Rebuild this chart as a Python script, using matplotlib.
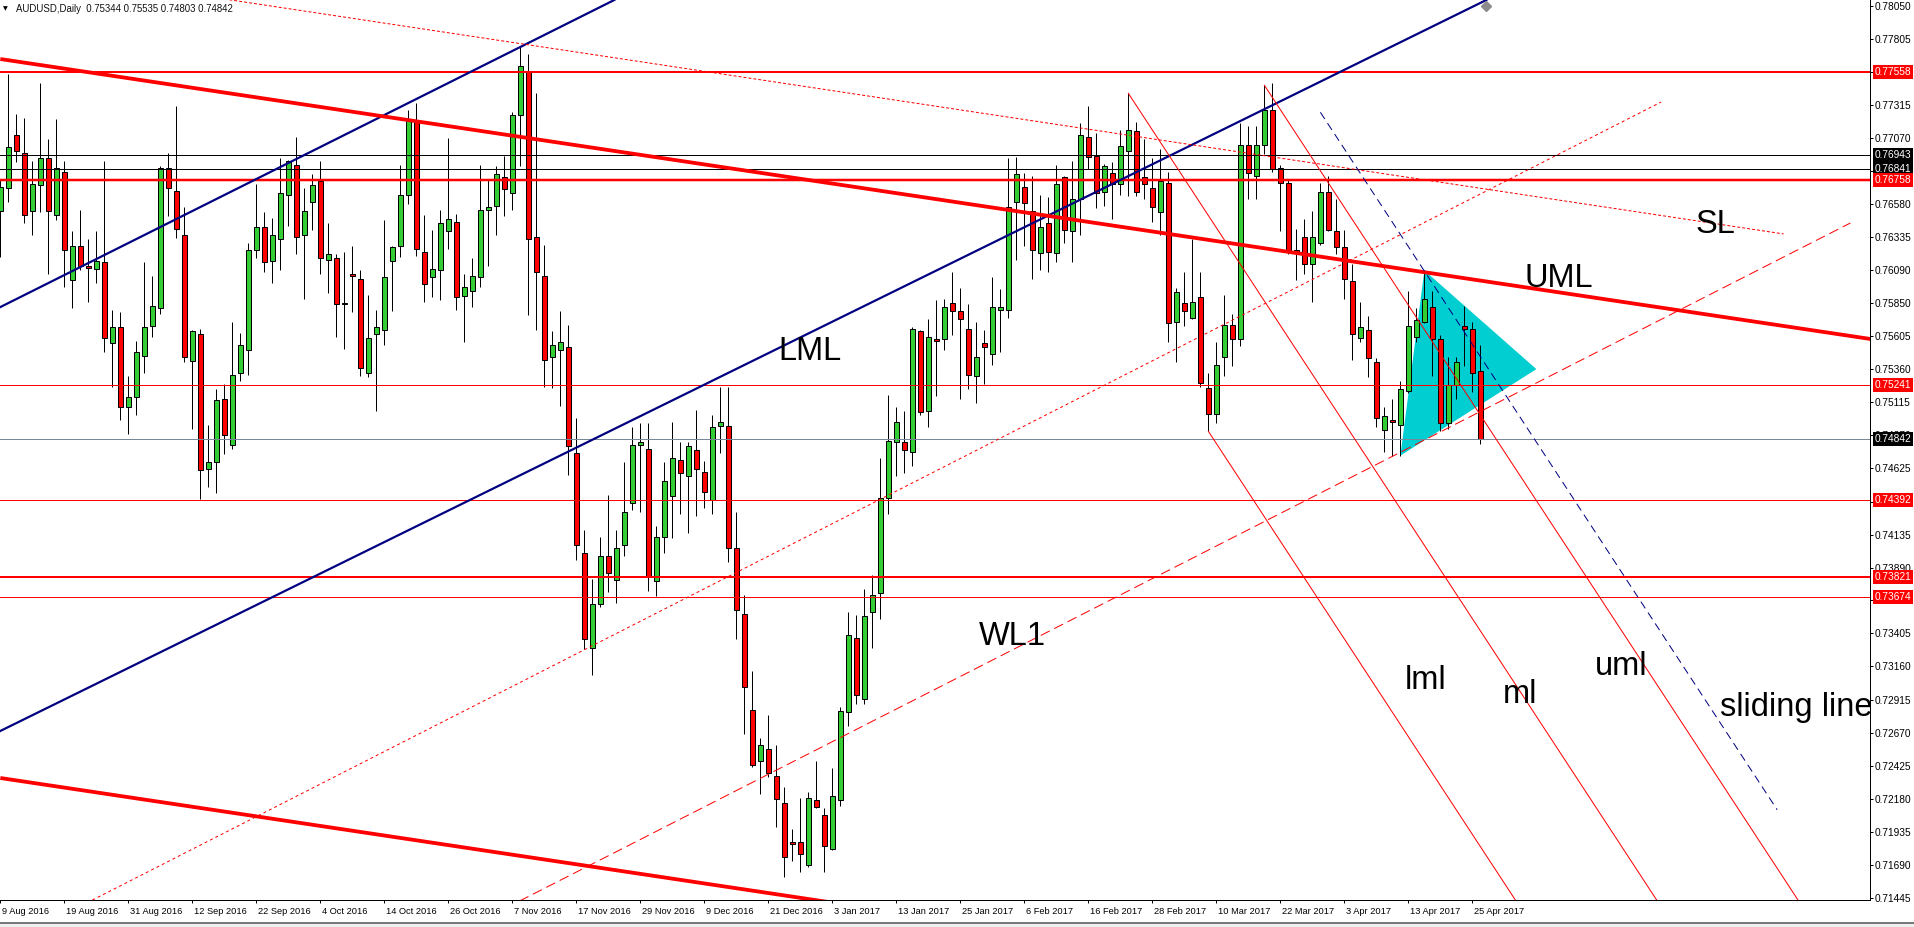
import numpy as np
import matplotlib.pyplot as plt
import matplotlib.transforms as mtrans
from matplotlib.patches import Polygon, Rectangle
from matplotlib.lines import Line2D

W, H, DPI = 1915, 927, 100
PX = 72.0 / DPI  # one pixel in points

# AUDUSD daily bars, 9 Aug 2016 .. 26 Apr 2017
opens = [
    0.7653, 0.7670, 0.7709, 0.7696, 0.7653, 0.7672, 0.7692, 0.7650, 0.7682, 0.7602,
    0.7627, 0.7612, 0.7610, 0.7615, 0.7555, 0.7567, 0.7508, 0.7515, 0.7546, 0.7568,
    0.7581, 0.7685, 0.7668, 0.7635, 0.7542, 0.7562, 0.7462, 0.7467, 0.7514, 0.7480,
    0.7533, 0.7550, 0.7624, 0.7641, 0.7616, 0.7632, 0.7665, 0.7687, 0.7635, 0.7660,
    0.7675, 0.7617, 0.7618, 0.7585, 0.7606, 0.7603, 0.7533, 0.7562, 0.7565, 0.7616,
    0.7627, 0.7665, 0.7719, 0.7623, 0.7604, 0.7609, 0.7638, 0.7645, 0.7590, 0.7594,
    0.7604, 0.7654, 0.7657, 0.7678, 0.7666, 0.7724, 0.7756, 0.7634, 0.7605, 0.7545,
    0.7550, 0.7552, 0.7474, 0.7400, 0.7330, 0.7362, 0.7398, 0.7380, 0.7406, 0.7437,
    0.7480, 0.7477, 0.7379, 0.7412, 0.7442, 0.7469, 0.7457, 0.7476, 0.7460, 0.7439,
    0.7494, 0.7494, 0.7404, 0.7355, 0.7284, 0.7246, 0.7255, 0.7235, 0.7215, 0.7186,
    0.7186, 0.7169, 0.7217, 0.7206, 0.7181, 0.7217, 0.7282, 0.7337, 0.7292, 0.7356,
    0.7370, 0.7441, 0.7482, 0.7482, 0.7475, 0.7564, 0.7505, 0.7558, 0.7558, 0.7585,
    0.7579, 0.7566, 0.7531, 0.7555, 0.7547, 0.7580, 0.7580, 0.7660, 0.7671, 0.7653,
    0.7622, 0.7644, 0.7622, 0.7678, 0.7638, 0.7662, 0.7708, 0.7694, 0.7667, 0.7681,
    0.7673, 0.7697, 0.7712, 0.7678, 0.7670, 0.7652, 0.7674, 0.7571, 0.7585, 0.7574,
    0.7589, 0.7522, 0.7503, 0.7545, 0.7569, 0.7558, 0.7702, 0.7679, 0.7702, 0.7728,
    0.7685, 0.7674, 0.7624, 0.7634, 0.7614, 0.7629, 0.7667, 0.7638, 0.7626, 0.7601,
    0.7559, 0.7565, 0.7541, 0.7491, 0.7498, 0.7495, 0.7520, 0.7560, 0.7571, 0.7582,
    0.7558, 0.7496, 0.7524, 0.7568, 0.7566, 0.75344]
highs = [
    0.7676, 0.7754, 0.7725, 0.7722, 0.7690, 0.7748, 0.7706, 0.7721, 0.7690, 0.7638,
    0.7654, 0.7632, 0.7638, 0.7690, 0.7580, 0.7578, 0.7531, 0.7557, 0.7615, 0.7605,
    0.7686, 0.7696, 0.7731, 0.7656, 0.7565, 0.7566, 0.7495, 0.7521, 0.7525, 0.7571,
    0.7563, 0.7629, 0.7673, 0.7652, 0.7648, 0.7692, 0.7691, 0.7708, 0.7670, 0.7680,
    0.7690, 0.7644, 0.7621, 0.7623, 0.7627, 0.7609, 0.7591, 0.7580, 0.7646, 0.7627,
    0.7687, 0.7728, 0.7733, 0.7650, 0.7639, 0.7654, 0.7707, 0.7651, 0.7606, 0.7618,
    0.7687, 0.7677, 0.7686, 0.7694, 0.7726, 0.7774, 0.7769, 0.7740, 0.7628, 0.7564,
    0.7579, 0.7569, 0.7500, 0.7417, 0.7381, 0.7412, 0.7443, 0.7417, 0.7467, 0.7493,
    0.7496, 0.7496, 0.7420, 0.7467, 0.7497, 0.7482, 0.7482, 0.7506, 0.7468, 0.7502,
    0.7523, 0.7523, 0.7430, 0.7369, 0.7313, 0.7263, 0.7280, 0.7258, 0.7227, 0.7196,
    0.7219, 0.7223, 0.7246, 0.7211, 0.7241, 0.7286, 0.7356, 0.7354, 0.7373, 0.7384,
    0.7470, 0.7517, 0.7508, 0.7505, 0.7567, 0.7565, 0.7573, 0.7587, 0.7588, 0.7608,
    0.7596, 0.7584, 0.7571, 0.7565, 0.7604, 0.7595, 0.7692, 0.7693, 0.7681, 0.7679,
    0.7665, 0.7663, 0.7687, 0.7679, 0.7690, 0.7718, 0.7731, 0.7711, 0.7688, 0.7689,
    0.7713, 0.7740, 0.7719, 0.7706, 0.7692, 0.7699, 0.7682, 0.7596, 0.7608, 0.7632,
    0.7608, 0.7533, 0.7556, 0.7591, 0.7577, 0.7718, 0.7716, 0.7716, 0.7746, 0.7748,
    0.7687, 0.7676, 0.7640, 0.7647, 0.7653, 0.7674, 0.7679, 0.7662, 0.7639, 0.7614,
    0.7586, 0.7575, 0.7544, 0.7508, 0.7514, 0.7527, 0.7594, 0.7581, 0.7609, 0.7594,
    0.7561, 0.7545, 0.7545, 0.7583, 0.7571, 0.75535]
lows = [
    0.7619, 0.7660, 0.7689, 0.7644, 0.7635, 0.7652, 0.7606, 0.7646, 0.7597, 0.7581,
    0.7609, 0.7586, 0.7600, 0.7549, 0.7523, 0.7498, 0.7488, 0.7502, 0.7533, 0.7560,
    0.7577, 0.7649, 0.7633, 0.7541, 0.7492, 0.7440, 0.7449, 0.7444, 0.7473, 0.7477,
    0.7527, 0.7532, 0.7618, 0.7608, 0.7600, 0.7609, 0.7642, 0.7621, 0.7588, 0.7639,
    0.7606, 0.7592, 0.7560, 0.7551, 0.7578, 0.7531, 0.7530, 0.7505, 0.7554, 0.7579,
    0.7619, 0.7658, 0.7620, 0.7586, 0.7589, 0.7587, 0.7625, 0.7580, 0.7556, 0.7582,
    0.7597, 0.7612, 0.7635, 0.7649, 0.7654, 0.7686, 0.7576, 0.7565, 0.7523, 0.7522,
    0.7509, 0.7458, 0.7395, 0.7329, 0.7310, 0.7360, 0.7371, 0.7363, 0.7398, 0.7432,
    0.7430, 0.7372, 0.7368, 0.7400, 0.7411, 0.7429, 0.7415, 0.7427, 0.7433, 0.7429,
    0.7474, 0.7393, 0.7336, 0.7266, 0.7242, 0.7222, 0.7234, 0.7197, 0.7160, 0.7172,
    0.7164, 0.7168, 0.7211, 0.7164, 0.7180, 0.7213, 0.7272, 0.7288, 0.7288, 0.7330,
    0.7351, 0.7429, 0.7457, 0.7459, 0.7464, 0.7502, 0.7493, 0.7516, 0.7550, 0.7561,
    0.7514, 0.7521, 0.7511, 0.7525, 0.7539, 0.7549, 0.7574, 0.7617, 0.7627, 0.7603,
    0.7609, 0.7608, 0.7615, 0.7629, 0.7615, 0.7635, 0.7684, 0.7655, 0.7657, 0.7647,
    0.7665, 0.7664, 0.7664, 0.7662, 0.7645, 0.7635, 0.7556, 0.7541, 0.7568, 0.7573,
    0.7523, 0.7490, 0.7496, 0.7531, 0.7538, 0.7553, 0.7662, 0.7662, 0.7695, 0.7682,
    0.7638, 0.7621, 0.7602, 0.7606, 0.7586, 0.7628, 0.7638, 0.7621, 0.7588, 0.7543,
    0.7556, 0.7530, 0.7493, 0.7475, 0.7472, 0.7472, 0.7518, 0.7556, 0.7570, 0.7531,
    0.7490, 0.7492, 0.7514, 0.7538, 0.7519, 0.74803]
closes = [
    0.7671, 0.7700, 0.7697, 0.7650, 0.7673, 0.7692, 0.7653, 0.7685, 0.7624, 0.7627,
    0.7612, 0.7611, 0.7616, 0.7559, 0.7567, 0.7508, 0.7515, 0.7549, 0.7567, 0.7583,
    0.7685, 0.7670, 0.7640, 0.7545, 0.7564, 0.7461, 0.7467, 0.7513, 0.7487, 0.7532,
    0.7554, 0.7624, 0.7641, 0.7615, 0.7635, 0.7666, 0.7690, 0.7634, 0.7653, 0.7672,
    0.7618, 0.7621, 0.7584, 0.7584, 0.7605, 0.7537, 0.7559, 0.7567, 0.7604, 0.7626,
    0.7665, 0.7721, 0.7625, 0.7599, 0.7610, 0.7644, 0.7647, 0.7589, 0.7597, 0.7605,
    0.7654, 0.7656, 0.7680, 0.7669, 0.7724, 0.7760, 0.7632, 0.7608, 0.7543, 0.7554,
    0.7556, 0.7479, 0.7406, 0.7336, 0.7362, 0.7398, 0.7385, 0.7404, 0.7430, 0.7480,
    0.7482, 0.7382, 0.7412, 0.7453, 0.7470, 0.7459, 0.7479, 0.7462, 0.7445, 0.7493,
    0.7497, 0.7404, 0.7358, 0.7301, 0.7243, 0.7258, 0.7237, 0.7218, 0.7175, 0.7185,
    0.7177, 0.7219, 0.7212, 0.7183, 0.7220, 0.7283, 0.7339, 0.7295, 0.7353, 0.7369,
    0.7441, 0.7483, 0.7497, 0.7476, 0.7566, 0.7504, 0.7560, 0.7557, 0.7582, 0.7579,
    0.7573, 0.7532, 0.7545, 0.7552, 0.7582, 0.7582, 0.7656, 0.7680, 0.7659, 0.7624,
    0.7641, 0.7623, 0.7673, 0.7639, 0.7662, 0.7709, 0.7693, 0.7666, 0.7686, 0.7673,
    0.7701, 0.7713, 0.7667, 0.7673, 0.7656, 0.7675, 0.7570, 0.7593, 0.7579, 0.7586,
    0.7526, 0.7503, 0.7539, 0.7569, 0.7558, 0.7702, 0.7681, 0.7702, 0.7728, 0.7684,
    0.7674, 0.7624, 0.7622, 0.7614, 0.7634, 0.7667, 0.7639, 0.7626, 0.7603, 0.7562,
    0.7567, 0.7544, 0.7500, 0.7501, 0.7497, 0.7521, 0.7568, 0.7572, 0.7588, 0.7558,
    0.7496, 0.7524, 0.7541, 0.7566, 0.7533, 0.74842]

# one date label every 8 bars
date_labels = ['9 Aug 2016', '19 Aug 2016', '31 Aug 2016', '12 Sep 2016', '22 Sep 2016',
               '4 Oct 2016', '14 Oct 2016', '26 Oct 2016', '7 Nov 2016', '17 Nov 2016',
               '29 Nov 2016', '9 Dec 2016', '21 Dec 2016', '3 Jan 2017', '13 Jan 2017',
               '25 Jan 2017', '6 Feb 2017', '16 Feb 2017', '28 Feb 2017', '10 Mar 2017',
               '22 Mar 2017', '3 Apr 2017', '13 Apr 2017', '25 Apr 2017']

price_ticks = [0.78050, 0.77805, 0.77560, 0.77315, 0.77070, 0.76825, 0.76580, 0.76335,
               0.76090, 0.75850, 0.75605, 0.75360, 0.75115, 0.74870, 0.74625, 0.74380,
               0.74135, 0.73890, 0.73650, 0.73405, 0.73160, 0.72915, 0.72670, 0.72425,
               0.72180, 0.71935, 0.71690, 0.71445]

# horizontal levels
levels = [0.77558, 0.76943, 0.76841, 0.76758, 0.75241, 0.74842, 0.74392, 0.73821, 0.73674]
level_colors = ['#FF0000', '#000000', '#000000', '#FF0000', '#FF0000', '#778899',
                '#FF0000', '#FF0000', '#FF0000']
level_boxes = ['#FF0000', '#000000', '#000000', '#FF0000', '#FF0000', '#000000',
               '#FF0000', '#FF0000', '#FF0000']
level_px = [2, 1, 1, 2.5, 1, 1, 1, 2, 1]

# text annotations (bar index, price)
note_text = ['LML', 'UML', 'SL', 'WL1', 'lml', 'ml', 'uml', 'sliding line']
note_bar = [97.25, 190.5, 211.9, 122.25, 175.5, 187.75, 199.25, 215.0]
note_price = [0.7549, 0.7603, 0.7643, 0.7338, 0.7306, 0.7295, 0.7316, 0.7286]

o = np.array(opens); h = np.array(highs); l = np.array(lows); c = np.array(closes)
x = np.arange(len(o))

fig = plt.figure(figsize=(W / DPI, H / DPI), dpi=DPI)
fig.patch.set_facecolor('white')
ax = fig.add_axes([0, 27 / H, 1870 / W, 900 / H])
ax.set_xlim(-0.04, 233.7)
ax.set_ylim(0.714325, 0.780907)

for s in ['left', 'top']:
    ax.spines[s].set_visible(False)
for s in ['right', 'bottom']:
    ax.spines[s].set_linewidth(PX)
    ax.spines[s].set_color('black')

small = dict(family='Liberation Sans', fontsize=7.3)
big = dict(family='Liberation Sans', fontsize=23.5, color='black')

# cyan triangle (background object)
tri = Polygon([(178, h[178]), (175, l[175]), (192, 0.7536)], closed=True,
              fc='#00CED1', ec='none', zorder=1)
ax.add_patch(tri)

# candles
ax.vlines(x, l, h, color='black', lw=PX, zorder=2)
body_lo = np.minimum(o, c)
body_h = np.maximum(np.abs(c - o), 0.000012)
cols = np.where(c > o, '#32CD32', '#FF0000')
ax.bar(x, body_h, bottom=body_lo, width=0.6, color=cols, edgecolor='black',
       linewidth=PX, zorder=2.5)

# horizontal levels
for lv, col, w in zip(levels, level_colors, level_px):
    ax.axhline(lv, color=col, lw=w * PX, zorder=3)

# channel lines
ax.plot([0, 76.75], [0.75819, 0.78091], color='#000080', lw=2.2 * PX, zorder=3)
ax.plot([0, 185.75], [0.72683, 0.78091], color='#000080', lw=2.2 * PX, zorder=3)
ax.plot([0, 233.75], [0.77654, 0.75583], color='#FF0000', lw=3.8 * PX, zorder=3,
        solid_capstyle='butt')
ax.plot([0, 233.75], [0.72335, 0.70263], color='#FF0000', lw=3.8 * PX, zorder=3,
        solid_capstyle='butt')
ax.plot([27.0, 222.9], [0.78107, 0.76360], color='#FF0000', lw=PX, zorder=3,
        linestyle=(0, (3, 2)))
ax.plot([11.5, 207.6], [0.71432, 0.77336], color='#FF0000', lw=PX, zorder=3,
        linestyle=(0, (3, 3)))
ax.plot([64.9, 231.25], [0.71425, 0.76441], color='#FF0000', lw=PX, zorder=3,
        linestyle=(0, (10, 5)))
ax.plot([185.75], [0.7805], marker='D', ms=5, color='#8C8C8C', zorder=4, clip_on=False)

# Andrews pitchfork from the Feb high, the early-March low and the mid-March high
A = (141, h[141]); B = (151, l[151]); C = (158, h[158])
mid = ((B[0] + C[0]) / 2, (B[1] + C[1]) / 2)
slope = (mid[1] - A[1]) / (mid[0] - A[0])
for k0, p0 in (A, B, C):
    ax.plot([k0, 240], [p0, p0 + slope * (240 - k0)], color='#FF0000', lw=PX, zorder=3)
# sliding line, parallel to the fork
ax.plot([165, 222.1], [0.7726, 0.7726 + slope * (222.1 - 165)], color='#000080',
        lw=PX, zorder=3, linestyle=(0, (8, 5)))

for t, xb, yp in zip(note_text, note_bar, note_price):
    ax.text(xb, yp, t, ha='left', va='center', zorder=5, clip_on=True, **big)

# right price scale
ax.yaxis.tick_right()
ax.set_yticks(price_ticks)
ax.set_yticklabels([f'{v:.5f}' for v in price_ticks], **small)
ax.tick_params(axis='y', length=3 * PX, width=PX, pad=2 * PX, direction='out')

trans_r = mtrans.blended_transform_factory(ax.transAxes, ax.transData)
for lv, bc in zip(levels, level_boxes):
    ax.text(1.0 + 4.5 / 1870, lv, f'{lv:.5f}', transform=trans_r, ha='left', va='center',
            color='white', clip_on=False, zorder=10,
            bbox=dict(boxstyle='square,pad=0.18', fc=bc, ec='none'), **small)

# time scale
ax.set_xticks(np.arange(0, 8 * len(date_labels), 8))
ax.set_xticklabels([''] * len(date_labels))
ax.tick_params(axis='x', length=3 * PX, width=PX, direction='out')
trans_b = mtrans.blended_transform_factory(ax.transData, ax.transAxes)
for i, lab in enumerate(date_labels):
    ax.text(8 * i + 0.25, -11 / 900, lab, transform=trans_b, ha='left', va='center',
            clip_on=False, family='Liberation Sans', fontsize=6.7)

# title
fig.text(3 / W, 1 - 9 / H, '\u25BC', family='DejaVu Sans', fontsize=4.5,
         va='center', ha='left')
fig.text(16 / W, 1 - 9 / H, 'AUDUSD,Daily  0.75344 0.75535 0.74803 0.74842',
         va='center', ha='left', color='#111111', family='Liberation Sans', fontsize=6.9)

# window frame at the bottom
fig.add_artist(Rectangle((0, 0), 1, 4 / H, transform=fig.transFigure,
                         fc='#F0F0F0', ec='none'))
fig.add_artist(Line2D([0, 1], [4 / H, 4 / H], transform=fig.transFigure,
                      color='#505050', lw=1.5 * PX))

fig.savefig('out.png', dpi=DPI)
